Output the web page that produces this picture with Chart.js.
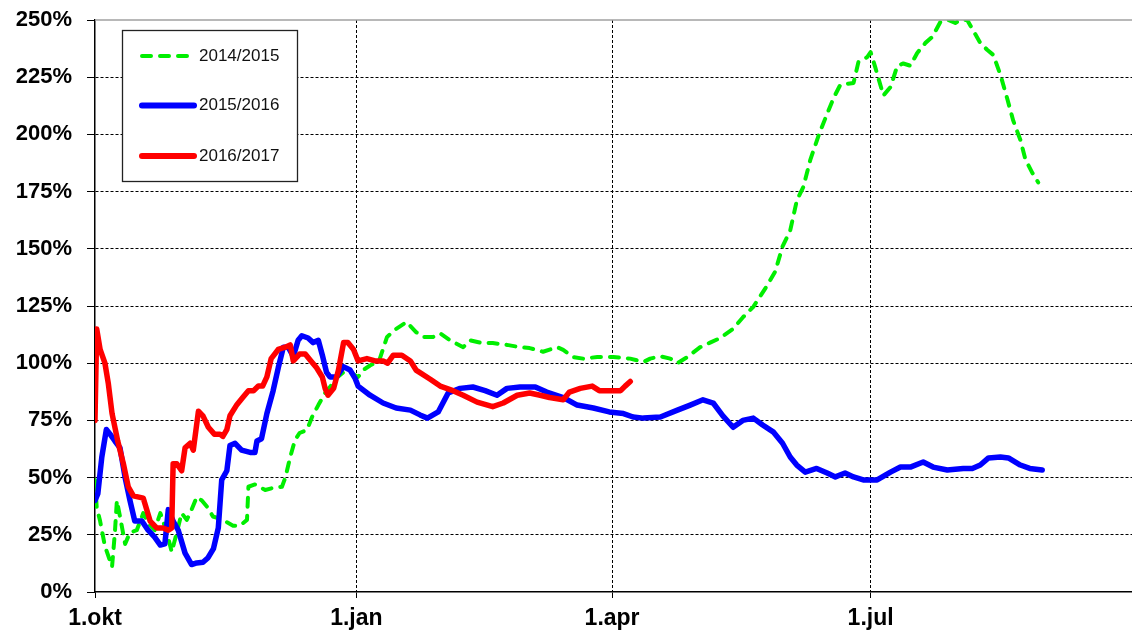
<!DOCTYPE html>
<html>
<head>
<meta charset="utf-8">
<script src="https://cdn.jsdelivr.net/npm/chart.js@4/dist/chart.umd.min.js"></script>
<style>
  html, body { margin: 0; padding: 0; background: #ffffff; }
  #wrap { width: 1132px; height: 634px; }
</style>
</head>
<body>
<div id="wrap"><canvas id="c" width="1132" height="634"></canvas></div>
<script>
// ---- Data (x = days since 1.okt, y = percent) ----
const seriesNames = ["2014/2015", "2015/2016", "2016/2017"];

const tickDays = [0, 92, 182, 273];
const tickLabels = ["1.okt", "1.jan", "1.apr", "1.jul"];

const yTicks = [0, 25, 50, 75, 100, 125, 150, 175, 200, 225, 250];

const greenDays = [0, 0.6, 1.8, 3.5, 6, 7, 7.7, 8.8, 10.6, 12.3,
  14.7, 17, 18.7, 21, 23, 25.3, 27, 28.8, 30.5, 32.3,
  34, 35.8, 37.6, 39.8, 41.5, 44, 46.4, 48.6, 51, 53.5,
  54, 56.3, 59.9, 62.7, 65.8, 67, 68.7, 70.4, 72, 74.6,
  76.4, 78.6, 81, 82.7, 85, 87.4, 89.8, 92.6, 94.4, 96.8,
  100, 102.8, 106, 109.7, 113, 115.5, 119, 121.5, 125, 129.6,
  132, 135.6, 140, 145, 149.6, 153, 157.7, 162.7, 164.8, 168.3,
  171.8, 176.8, 182.4, 188.4, 193, 195.4, 199, 202.5, 205, 208.5,
  213, 216.5, 220, 224.6, 228, 231.7, 236.6, 239.4, 242, 244.7,
  247, 249.3, 251.8, 255, 257.7, 260, 262.3, 267, 268.7, 271.8,
  273, 274.6, 277.5, 280, 282.4, 284.5, 287, 289.4, 292.3, 294.7,
  297.5, 300.4, 302.8, 304.6, 307, 309, 311.6, 314, 316.2, 318.7,
  321, 323.2, 325.7, 327.5, 330, 332];
const greenValues = [49, 37, 31, 20, 11, 26, 40, 33, 21, 26,
  27, 34.5, 30, 27, 34.5, 26, 17.5, 26, 34.5, 31.5,
  36, 41.5, 40, 36.7, 33, 32, 30.5, 29, 29, 31.5,
  46, 47, 44.6, 45.5, 46, 50, 59, 66.4, 69.5, 70.8,
  76.5, 81.7, 87, 89.6, 93.5, 96, 96, 94, 97, 99,
  101, 111.5, 115, 118, 113.6, 111.5, 111.5, 113, 110, 107,
  110, 109, 108.8, 108, 107, 106.6, 105, 107, 105.8, 102.7,
  102, 102.7, 102.7, 102, 100.5, 102, 103, 102, 100, 102.7,
  107, 109, 111, 115, 120, 124.6, 134, 140, 151, 158,
  171, 177, 189, 200.6, 209, 216, 221.6, 222.5, 231.6, 233.8,
  236, 229.5, 217, 220.7, 230, 231, 230, 235.6, 240, 242.6,
  249, 250, 248.7, 250, 250, 245.6, 240, 237, 234.7, 226,
  216, 206, 197.6, 189, 183, 179];

const blueDays = [0, 1, 2.4, 4, 5.3, 7, 8.8, 10.6, 12.3, 14,
  16.5, 18.7, 21, 23, 24.6, 25.8, 27.5, 29.3, 31.7, 34,
  35.8, 38, 39.8, 41.7, 43.4, 44.6, 46.4, 47.5, 49.3, 51.6,
  54.6, 56.3, 57, 58.6, 60.5, 62.7, 64.5, 66.3, 68, 69.8,
  71.5, 72.8, 75, 76.8, 78.6, 80, 81.5, 82.7, 85, 87.4,
  89.8, 91.5, 92.6, 96.8, 101.4, 106, 111, 114.4, 117, 120.8,
  124.3, 128.5, 133, 137.3, 141.5, 145, 149.6, 155, 159, 164.8,
  169.7, 175.4, 181, 186, 189.4, 193, 199, 205, 209.5, 214,
  217.6, 221, 224.6, 228, 231.7, 235, 238.7, 242, 244.7, 247,
  250, 254, 257.7, 260.6, 264, 267, 270.4, 275.3, 280, 283.5,
  287, 291.5, 295, 300, 305.6, 308.8, 311.6, 314.5, 318.7, 321.5,
  325.7, 329, 333.4];
const blueValues = [40, 43, 59, 71, 69, 66, 63, 50, 40, 31,
  31, 27, 24, 20.5, 21, 36, 31, 27, 17, 12,
  12.7, 13, 15, 19, 28, 49, 53, 64, 65, 62,
  61, 61, 66, 67, 78, 88, 98, 107, 107, 103,
  110, 112, 111, 109, 110, 103.6, 96, 94, 94, 98.5,
  97, 93.5, 90, 86, 82.6, 80.4, 79.5, 77.4, 76, 78.7,
  87, 89, 89.6, 88, 86, 89, 89.6, 89.6, 87.4, 85,
  81.7, 80.4, 78.7, 78, 76.5, 76, 76.5, 79.5, 81.7, 84,
  82.6, 77, 72, 75, 76, 73, 70, 65, 59, 55.5,
  52.4, 54, 52, 50.3, 52, 50.3, 49, 49, 52.4, 54.6,
  54.6, 56.8, 54.6, 53.3, 54, 54, 55.5, 58.6, 59, 58.6,
  55.5, 54, 53.3];

const redDays = [0, 0.6, 1.8, 3.5, 4.7, 6, 8, 10, 11.7, 13.5,
  17, 19.4, 21.7, 24, 25.8, 27, 27.5, 28.8, 30.5, 31.7,
  33.5, 34.6, 36.4, 38, 39.9, 42, 44, 45, 46.4, 47.5,
  50, 52, 54, 55.8, 57.5, 59, 60.5, 62, 64.5, 67,
  68.7, 69.8, 72, 74, 76, 78, 80, 81, 82, 84,
  85.7, 87.5, 89, 91, 92.6, 95.7, 98.6, 101.4, 103, 105,
  108, 111, 113, 118, 121.5, 126, 129.6, 134.5, 140, 143.7,
  148.6, 153, 156.7, 160, 164.8, 167, 170.8, 175, 177.5, 181,
  185, 186.6, 188.4];
const redValues = [75, 115, 106, 100, 91, 78, 66, 56, 46, 42,
  41, 31, 28, 28, 27, 28, 56, 56, 53, 63,
  65, 62, 79, 77, 72, 69, 69, 68, 71, 77,
  82, 85, 88, 88, 90, 90, 94, 102, 106, 107,
  108, 101, 104, 104, 101, 98, 94, 89, 86, 89,
  97, 109, 109, 106, 101, 102, 101, 101, 100, 103.5,
  103.5, 101, 97, 93, 90, 88, 86, 83, 81, 82.6,
  86, 87, 86, 85, 84, 87.4, 89, 90, 88, 88,
  88, 90, 92];

const colors = ["#00ee00", "#0000ff", "#ff0000"];

function pairs(days, vals) {
  return days.map((d, i) => ({ x: d, y: vals[i] }));
}

const FONT = "'Liberation Sans', Arial, sans-serif";

// Legend drawn inside the plot area (custom box like the original)
const legendBox = {
  id: 'legendBox',
  afterDraw(chart) {
    const c = chart.ctx;
    c.save();
    c.fillStyle = '#ffffff';
    c.fillRect(122.5, 30.5, 175, 151);
    c.strokeStyle = '#222222';
    c.lineWidth = 1.3;
    c.strokeRect(122.5, 30.5, 175, 151);
    const rowsY = [56, 105.5, 156];
    chart.data.datasets.slice().sort((a, b) => a.legendIndex - b.legendIndex).forEach((ds, i) => {
      const y = rowsY[i];
      c.beginPath();
      c.strokeStyle = ds.borderColor;
      c.lineCap = 'round';
      if (ds.borderDash && ds.borderDash.length) {
        c.setLineDash([9, 9]);
        c.lineWidth = 4;
        c.moveTo(142, y);
        c.lineTo(190, y);
      } else {
        c.setLineDash([]);
        c.lineWidth = 6;
        c.moveTo(142, y);
        c.lineTo(194, y);
      }
      c.stroke();
      c.setLineDash([]);
      c.fillStyle = '#111111';
      c.font = '17px ' + FONT;
      c.textAlign = 'left';
      c.textBaseline = 'middle';
      c.fillText(ds.label, 199, y);
    });
    c.restore();
  }
};

// Grey top border of the plot area
const topBorder = {
  id: 'topBorder',
  afterDraw(chart) {
    const a = chart.chartArea;
    const c = chart.ctx;
    c.save();
    c.strokeStyle = '#a0a0a0';
    c.lineWidth = 1.5;
    c.beginPath();
    c.moveTo(a.left, a.top);
    c.lineTo(a.right, a.top);
    c.stroke();
    c.restore();
  }
};

new Chart(document.getElementById('c'), {
  type: 'line',
  data: {
    datasets: [
      { label: seriesNames[2], legendIndex: 2, order: 0, data: pairs(redDays, redValues),
        borderColor: colors[2], borderWidth: 5.5 },
      { label: seriesNames[1], legendIndex: 1, order: 1, data: pairs(blueDays, blueValues),
        borderColor: colors[1], borderWidth: 5.5 },
      { label: seriesNames[0], legendIndex: 0, order: 2, data: pairs(greenDays, greenValues),
        borderColor: colors[0], borderWidth: 4, borderDash: [9, 9], borderCapStyle: 'round' }
    ]
  },
  options: {
    responsive: false,
    animation: false,
    events: [],
    layout: { padding: { top: 20, right: 0, left: 0, bottom: 0 } },
    elements: {
      point: { radius: 0 },
      line: { tension: 0, fill: false, borderJoinStyle: 'round', borderCapStyle: 'round' }
    },
    plugins: { legend: { display: false }, tooltip: { enabled: false } },
    scales: {
      x: {
        type: 'linear',
        min: 0,
        max: 365,
        afterBuildTicks: (s) => { s.ticks = tickDays.map(v => ({ value: v })); },
        afterFit: (s) => { s.height = 42; s.paddingLeft = 0; s.paddingRight = 0; },
        ticks: {
          autoSkip: false,
          maxRotation: 0,
          padding: 7,
          color: '#000',
          font: { family: FONT, size: 23, weight: 'bold' },
          callback: (v) => tickLabels[tickDays.indexOf(v)]
        },
        grid: {
          color: (ctx) => (ctx.index === 0 ? 'rgba(0,0,0,0)' : '#000'),
          tickColor: '#000',
          lineWidth: 1,
          tickLength: 6
        },
        border: { display: true, color: '#000', width: 1.5, dash: [3, 2] }
      },
      y: {
        min: 0,
        max: 250,
        afterBuildTicks: (s) => { s.ticks = yTicks.map(v => ({ value: v })); },
        afterFit: (s) => { s.width = 95; s.paddingTop = 0; s.paddingBottom = 0; },
        ticks: {
          padding: 15,
          color: '#000',
          font: { family: FONT, size: 22, weight: 'bold' },
          callback: (v) => v + '%'
        },
        grid: {
          color: (ctx) => ((ctx.tick && (ctx.tick.value === 0 || ctx.tick.value === 250)) ? 'rgba(0,0,0,0)' : '#000'),
          tickColor: '#000',
          lineWidth: 1,
          tickLength: 8
        },
        border: { display: true, color: '#000', width: 1.5, dash: [3, 2] }
      }
    }
  },
  plugins: [topBorder, legendBox]
});
</script>
</body>
</html>
